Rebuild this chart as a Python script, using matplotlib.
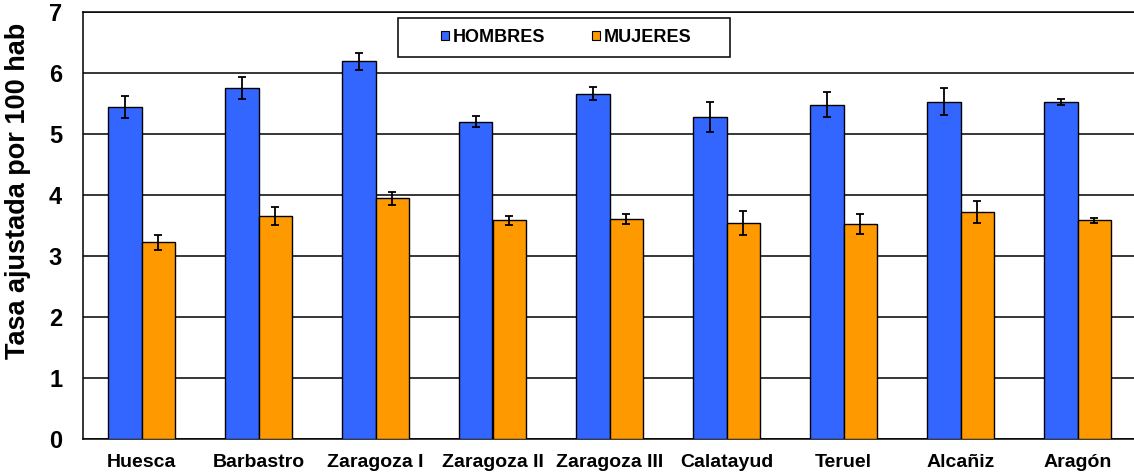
import numpy as np
import matplotlib
matplotlib.use("Agg")
import matplotlib.pyplot as plt
from matplotlib.patches import Rectangle

# Datos
zonas = ['Huesca', 'Barbastro', 'Zaragoza I', 'Zaragoza II', 'Zaragoza III',
         'Calatayud', 'Teruel', 'Alcañiz', 'Aragón']
hombres = [5.44, 5.75, 6.19, 5.20, 5.66, 5.28, 5.48, 5.53, 5.53]
hombres_err = [0.18, 0.18, 0.14, 0.085, 0.11, 0.25, 0.21, 0.22, 0.05]
mujeres = [3.22, 3.65, 3.94, 3.58, 3.60, 3.54, 3.52, 3.71, 3.58]
mujeres_err = [0.12, 0.15, 0.11, 0.08, 0.08, 0.20, 0.17, 0.18, 0.035]

plt.rcParams['font.family'] = ['Liberation Sans', 'DejaVu Sans']
plt.rcParams['font.weight'] = 'bold'

W, H = 1134, 473
fig = plt.figure(figsize=(W / 100, H / 100), dpi=100)
ax = fig.add_axes([83 / W, 34.5 / H, 1053 / W, 426.5 / H])

x = np.arange(len(zonas))
w = 0.288
err_kw = dict(ecolor='black', elinewidth=1.3, capsize=3, capthick=1.3)
ax.bar(x - w / 2, hombres, w, yerr=hombres_err, color='#3366FF',
       edgecolor='black', linewidth=1, label='HOMBRES', error_kw=err_kw, zorder=3)
ax.bar(x + w / 2, mujeres, w, yerr=mujeres_err, color='#FF9900',
       edgecolor='black', linewidth=1, label='MUJERES', error_kw=err_kw, zorder=3)

ax.set_xlim(-0.5, len(zonas) - 0.5)
ax.set_ylim(0, 7)
ax.set_yticks(range(0, 8))
ax.yaxis.grid(True, color='black', linewidth=1.1, zorder=0)
ax.set_axisbelow(True)
ax.set_xticks(x)
ax.set_xticklabels(zonas, fontsize=14, fontweight='bold')
ax.tick_params(axis='y', length=0, pad=15, labelsize=17)
ax.tick_params(axis='x', length=0, pad=11)
for s in ax.spines.values():
    s.set_linewidth(1.1)
ax.set_ylabel('Tasa ajustada por 100 hab', fontsize=19.5, fontweight='bold')
ax.yaxis.set_label_coords(-0.049, 0.58)

# recuadro de la leyenda
ax.add_patch(Rectangle((398 / W, 1 - 57 / H), 332 / W, 39 / H,
                       transform=fig.transFigure, facecolor='white',
                       edgecolor='black', linewidth=1.1, zorder=5, clip_on=False))
leg = ax.legend(loc='center', bbox_to_anchor=(566 / W, 1 - 37.5 / H),
                bbox_transform=fig.transFigure, ncol=2, frameon=False,
                fontsize=13, handlelength=0.45, handleheight=0.45,
                columnspacing=2.6, handletextpad=0.2, borderpad=0,
                borderaxespad=0)
leg.set_zorder(6)
for t in leg.get_texts():
    t.set_fontweight('bold')
for p in leg.get_patches():
    p.set_linewidth(0.8)

fig.savefig('out.png', dpi=100)
